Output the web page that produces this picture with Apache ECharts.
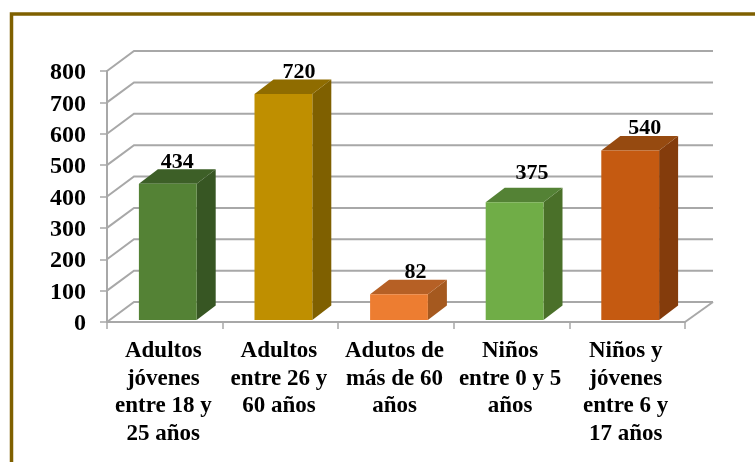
<!DOCTYPE html>
<html>
<head>
<meta charset="utf-8">
<style>html,body{margin:0;padding:0;background:#fff}#c{width:755px;height:462px}</style>
<script src="https://cdn.jsdelivr.net/npm/echarts@6/dist/echarts.min.js"></script>
</head>
<body>
<div id="c"></div>
<script>
const categories = ["Adultos\njóvenes\nentre 18 y\n25 años", "Adultos\nentre 26 y\n60 años", "Adutos de\nmás de 60\naños", "Niños\nentre 0 y 5\naños", "Niños y\njóvenes\nentre 6 y\n17 años"];
const values = [434, 720, 82, 375, 540];
const yTicks = [0, 100, 200, 300, 400, 500, 600, 700, 800];

const frontColors = ["#548235", "#bf8f00", "#ed7d31", "#70ad47", "#c55a11"];
const sideColors = ["#375623", "#7f6000", "#a5591f", "#4a7029", "#843c0c"];
const topColors = ["#3d5f27", "#8f6c00", "#b66025", "#548235", "#964a10"];
const labelNudgeX = [0, 6, 7, 8, 5];
const labelNudgeY = [0, 0, 0, -8, -1];

const FONT = '"Liberation Serif", serif';
const GRID = "#a8a8a8";
const wallDx = 27, wallDy = -20;
const barDx = 19, barDy = -14.5, barLift = -2, barShift = 3;

function renderWall(params, api) {
  const cs = params.coordSys;
  const v = api.value(1);
  const y = api.coord([0, v])[1];
  const x0 = cs.x, x1 = cs.x + cs.width;
  const children = [{
    type: "polyline",
    shape: { points: [[x0, y], [x0 + wallDx, y + wallDy], [x1 + wallDx + 1, y + wallDy]] },
    style: { fill: null, stroke: GRID, lineWidth: 2 }
  }];
  if (v === 0) {
    children.push({
      type: "line",
      shape: { x1: x1, y1: y, x2: x1 + wallDx + 1, y2: y + wallDy },
      style: { stroke: GRID, lineWidth: 2 }
    });
  }
  return { type: "group", children };
}

function renderBar(params, api) {
  const i = params.dataIndex;
  const top = api.coord([i, api.value(1)]);
  const base = api.coord([i, 0]);
  const w = api.size([1, 0])[0] * 0.5;
  const xL = top[0] - w / 2 + barShift, xR = xL + w;
  const yT = top[1] + barLift, yB = base[1] + barLift;
  return {
    type: "group",
    children: [
      { type: "polygon", shape: { points: [[xR, yT], [xR + barDx, yT + barDy], [xR + barDx, yB + barDy], [xR, yB]] }, style: { fill: sideColors[i] } },
      { type: "polygon", shape: { points: [[xL, yT], [xL + barDx, yT + barDy], [xR + barDx, yT + barDy], [xR, yT]] }, style: { fill: topColors[i] } },
      { type: "rect", shape: { x: xL, y: yT, width: w, height: yB - yT }, style: { fill: frontColors[i] } },
      { type: "text", x: (xL + xR + barDx) / 2 + labelNudgeX[i], y: yT + barDy - 7 + labelNudgeY[i],
        style: { text: String(api.value(1)), font: 'bold 22px ' + FONT, fill: "#000", align: "center", verticalAlign: "middle" } }
    ]
  };
}

const chart = echarts.init(document.getElementById("c"), null, { renderer: "canvas" });
chart.setOption({
  animation: false,
  backgroundColor: "#fff",
  grid: { left: 107, right: 70, top: 71, bottom: 140, containLabel: false },
  xAxis: {
    type: "category", data: categories,
    axisLine: { lineStyle: { color: GRID, width: 2 } },
    axisTick: { show: true, alignWithLabel: false, length: 7, lineStyle: { color: GRID, width: 1.5 } },
    axisLabel: { color: "#000", fontFamily: FONT, fontWeight: "bold", fontSize: 23, lineHeight: 27.8, margin: 15, interval: 0, verticalAlign: "top", padding: [0, 3, 0, 0] }
  },
  yAxis: {
    type: "value", min: 0, max: 800, interval: 100,
    splitLine: { show: false },
    axisLine: { show: true, lineStyle: { color: GRID, width: 2 } },
    axisTick: { show: true, length: 7, lineStyle: { color: GRID, width: 1.5 } },
    axisLabel: { color: "#000", fontFamily: FONT, fontWeight: "bold", fontSize: 24, margin: 21, verticalAlign: "top", lineHeight: 24, padding: [-10, 0, 0, 0] }
  },
  graphic: [{
    type: "polyline", silent: true, z: 10,
    shape: { points: [[11.5, 470], [11.5, 14], [765, 14]] },
    style: { fill: null, stroke: "#7f6000", lineWidth: 3.5 }
  }],
  series: [
    { type: "custom", renderItem: renderWall, clip: false, z: 1, silent: true,
      encode: { x: 0, y: 1 }, data: yTicks.map(v => [0, v]) },
    { type: "custom", renderItem: renderBar, clip: false, z: 3, silent: true,
      encode: { x: 0, y: 1 }, data: values.map((v, i) => [i, v]) }
  ]
});
</script>
</body>
</html>
